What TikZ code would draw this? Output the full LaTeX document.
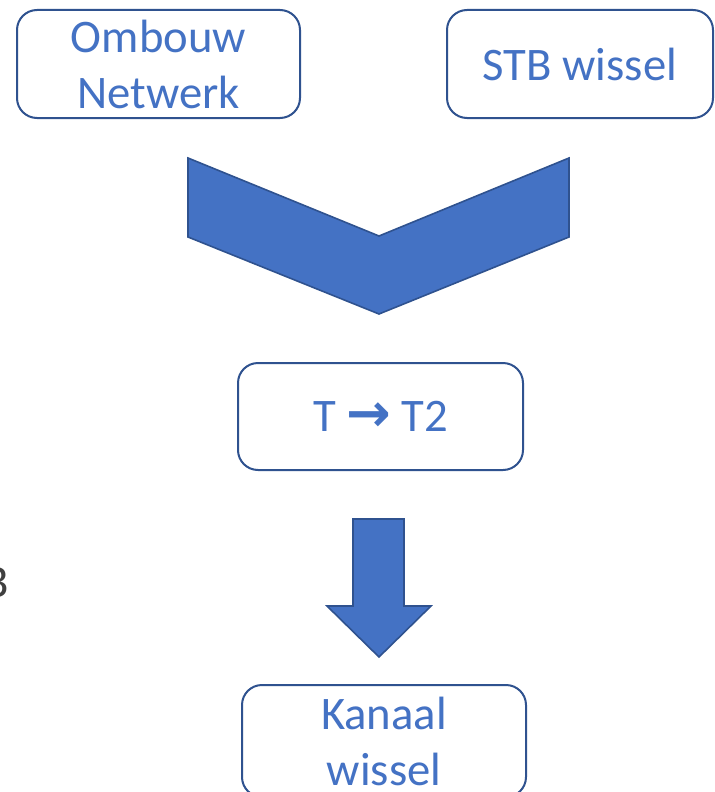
\documentclass[tikz,border=0pt]{standalone}
\usepackage{fontspec}
\setmainfont{Carlito}
\newfontfamily\symfont{DejaVu Sans}
\usetikzlibrary{positioning}

\definecolor{txtblue}{HTML}{4472C4}
\definecolor{lineblue}{HTML}{2F528F}

\begin{document}
\begin{tikzpicture}[x=0.75pt,y=-0.75pt,
  box node/.style={draw=lineblue,line width=1.5pt,rounded corners=15pt,
    fill=white,text=txtblue,align=center,inner sep=0pt,
    font=\fontsize{35}{42}\selectfont},
  shape arrow/.style={fill=txtblue,draw=lineblue,line width=1.2pt,line join=miter}]

  \useasboundingbox (0,0) rectangle (714,792);

  \node[box node,minimum width=212.25pt,minimum height=81pt] (ombouw) at (158.5,64) {Ombouw\\Netwerk};
  \node[box node,minimum width=199.5pt,minimum height=81pt] (stb) at (580,64) {STB wissel};
  \node[box node,minimum width=213.75pt,minimum height=80.25pt] (tt) at (380.5,416.5)
    {T {\symfont\bfseries\fontsize{40}{40}\selectfont →} T2};
  \node[box node,minimum width=213pt,minimum height=84pt] (kanaal) at (384,741) {Kanaal\\wissel};

  % grey letter cut off at the left edge
  \node[anchor=east,text=black!75,inner sep=0pt,font=\fontsize{35}{42}\selectfont] (cut) at (9,583) {B};

  % chevron
  \path[shape arrow] (188,158) -- (379,236) -- (569,158) -- (569,237)
    -- (379,314) -- (188,237) -- cycle;

  % down arrow
  \path[shape arrow] (353,519) -- (404,519) -- (404,606) -- (431,606)
    -- (379,657) -- (327,606) -- (353,606) -- cycle;

\end{tikzpicture}
\end{document}
